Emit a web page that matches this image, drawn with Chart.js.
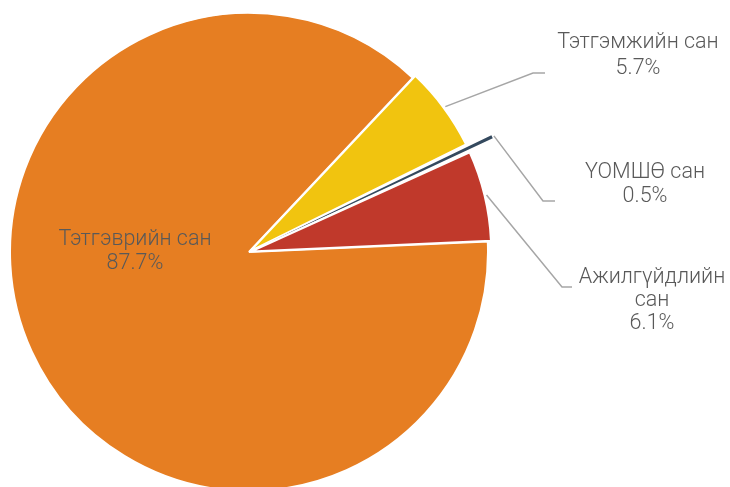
<!DOCTYPE html>
<html><head><meta charset="utf-8">
<script src="https://cdn.jsdelivr.net/npm/chart.js@4/dist/chart.umd.min.js"></script>
<style>html,body{margin:0;padding:0;background:#fff}#wrap{width:730px;height:487px;position:relative}</style>
</head><body><div id="wrap"><canvas id="c"></canvas></div>
<script>
// ---- data ----
const categories = ['Тэтгэврийн сан', 'Тэтгэмжийн сан', 'ҮОМШӨ сан', 'Ажилгүйдлийн сан'];
const categoryLines = [['Тэтгэврийн сан'], ['Тэтгэмжийн сан'], ['ҮОМШӨ сан'], ['Ажилгүйдлийн', 'сан']];
const shares = [87.7, 5.7, 0.5, 6.1];
const sliceColors = ['#E67E22', '#F1C40F', '#34495E', '#C0392B'];
const sliceOffsets = [0, 8, 61, 8];
const sliceBorders = [2, 2, 0, 2];

// ---- label layout (positions only) ----
const labelLayout = [
  { x: 135, ys: [245, 269] },
  { x: 638, ys: [48, 74], elbow: [533, 73], end: [545, 73] },
  { x: 645, ys: [178, 202], elbow: [543, 201], end: [555, 201] },
  { x: 652, ys: [283, 306, 329], elbow: [562, 287], end: [572, 287] }
];

const calloutPlugin = {
  id: 'callouts',
  afterDatasetsDraw(chart) {
    const ctx = chart.ctx;
    const meta = chart.getDatasetMeta(0);
    ctx.save();
    meta.data.forEach((arc, i) => {
      const lay = labelLayout[i];
      if (lay.elbow) {
        const mid = (arc.startAngle + arc.endAngle) / 2;
        const circ = arc.endAngle - arc.startAngle;
        const off = (arc.options.offset || 0) / 4 * (2 - Math.sin(Math.min(Math.PI, circ)));
        const r = arc.outerRadius + off + 2;
        const ax = arc.x + Math.cos(mid) * r;
        const ay = arc.y + Math.sin(mid) * r;
        ctx.strokeStyle = '#A6A6A6';
        ctx.lineWidth = 1.5;
        ctx.beginPath();
        ctx.moveTo(ax, ay);
        ctx.lineTo(lay.elbow[0], lay.elbow[1]);
        ctx.lineTo(lay.end[0], lay.end[1]);
        ctx.stroke();
      }
      const lines = categoryLines[i].concat([shares[i].toFixed(1) + '%']);
      ctx.font = '300 21.5px Roboto';
      ctx.fillStyle = '#595959';
      ctx.textAlign = 'center';
      ctx.textBaseline = 'alphabetic';
      lines.forEach((t, k) => ctx.fillText(t, lay.x, lay.ys[k]));
    });
    ctx.restore();
  }
};

new Chart(document.getElementById('c'), {
  type: 'pie',
  data: {
    labels: categories,
    datasets: [{
      data: shares,
      backgroundColor: sliceColors,
      borderColor: '#FFFFFF',
      borderWidth: sliceBorders,
      offset: sliceOffsets,
      clip: false
    }]
  },
  options: {
    responsive: true,
    maintainAspectRatio: false,
    animation: false,
    events: [],
    rotation: 87.5,
    radius: 239,
    layout: { padding: { left: 0, right: 232, top: 17, bottom: 0 } },
    plugins: { legend: { display: false }, tooltip: { enabled: false } }
  },
  plugins: [calloutPlugin]
});
</script>
</body></html>
